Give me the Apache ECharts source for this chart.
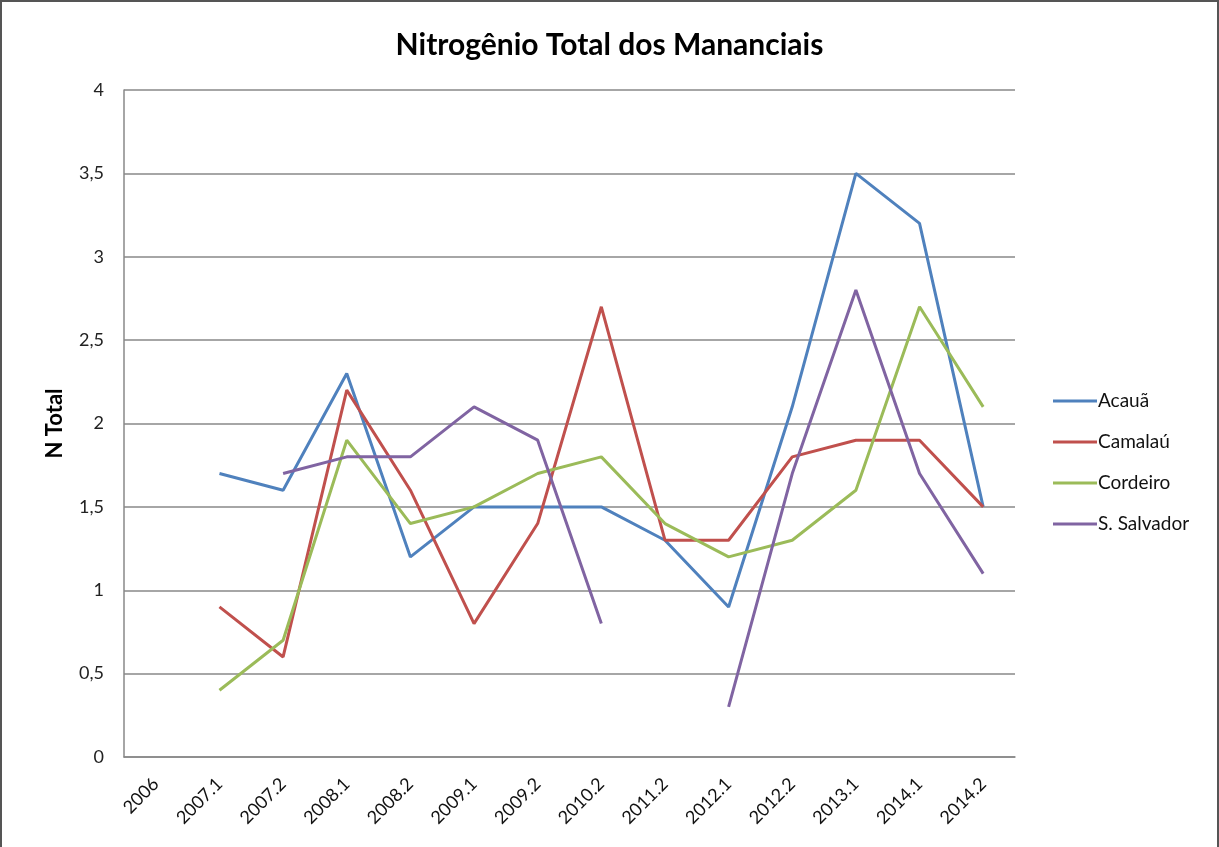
<!DOCTYPE html>
<html>
<head>
<meta charset="utf-8">
<script src="https://cdn.jsdelivr.net/npm/echarts@6/dist/echarts.min.js"></script>
<style>
  html, body { margin: 0; padding: 0; background: #fff; }
  #chart { width: 1219px; height: 847px; box-sizing: border-box; border: 2px solid #555; border-bottom: none; }
</style>
</head>
<body>
<div id="chart"></div>
<script>
// 类目和数据
const periods = ['2006', '2007.1', '2007.2', '2008.1', '2008.2', '2009.1', '2009.2', '2010.2', '2011.2', '2012.1', '2012.2', '2013.1', '2014.1', '2014.2'];
const acaua = [null, 1.7, 1.6, 2.3, 1.2, 1.5, 1.5, 1.5, 1.3, 0.9, 2.1, 3.5, 3.2, 1.5];
const camalau = [null, 0.9, 0.6, 2.2, 1.6, 0.8, 1.4, 2.7, 1.3, 1.3, 1.8, 1.9, 1.9, 1.5];
const cordeiro = [null, 0.4, 0.7, 1.9, 1.4, 1.5, 1.7, 1.8, 1.4, 1.2, 1.3, 1.6, 2.7, 2.1];
const salvador = [null, null, 1.7, 1.8, 1.8, 2.1, 1.9, 0.8, null, 0.3, 1.7, 2.8, 1.7, 1.1];
const seriesNames = ['Acauã', 'Camalaú', 'Cordeiro', 'S. Salvador'];

const font = 'Lato, "Open Sans", sans-serif';

function lineSeries(name, data, color) {
  return {
    name: name,
    type: 'line',
    data: data,
    showSymbol: false,
    symbol: 'none',
    connectNulls: false,
    lineStyle: { color: color, width: 3 },
    itemStyle: { color: color },
    emphasis: { disabled: true }
  };
}

const chart = echarts.init(document.getElementById('chart'));
chart.setOption({
  animation: false,
  title: {
    text: 'Nitrogênio Total dos Mananciais',
    left: 'center',
    top: 23,
    textStyle: { fontFamily: font, fontWeight: 'bold', fontSize: 30, color: '#000' }
  },
  legend: {
    orient: 'vertical',
    left: 1046,
    top: 384,
    itemGap: 21,
    itemWidth: 44,
    itemHeight: 3,
    icon: 'rect',
    textStyle: { fontFamily: font, fontSize: 19, lineHeight: 20, color: '#111', padding: [0, 0, 0, -4] },
    data: seriesNames
  },
  grid: { left: 122, right: 202, top: 88, bottom: 90, containLabel: false },
  xAxis: {
    type: 'category',
    data: periods,
    boundaryGap: true,
    axisLine: { lineStyle: { color: '#888', width: 1.5 } },
    axisTick: { show: false },
    axisLabel: { rotate: 45, fontFamily: font, fontSize: 18, color: '#111', margin: 24, interval: 0 }
  },
  yAxis: {
    type: 'value',
    min: 0,
    max: 4,
    interval: 0.5,
    name: 'N Total',
    nameLocation: 'middle',
    nameGap: 58,
    nameRotate: 90,
    nameTextStyle: { fontFamily: font, fontWeight: 'bold', fontSize: 22, color: '#000' },
    axisLine: { show: true, lineStyle: { color: '#888', width: 1.5 } },
    axisTick: { show: false },
    splitLine: { lineStyle: { color: '#888', width: 1.5 } },
    axisLabel: {
      fontFamily: font, fontSize: 18, color: '#222', margin: 20,
      formatter: v => String(v).replace('.', ',')
    }
  },
  series: [
    lineSeries(seriesNames[0], acaua, '#4F81BD'),
    lineSeries(seriesNames[1], camalau, '#C0504D'),
    lineSeries(seriesNames[2], cordeiro, '#9BBB59'),
    lineSeries(seriesNames[3], salvador, '#8064A2')
  ]
});
</script>
</body>
</html>
